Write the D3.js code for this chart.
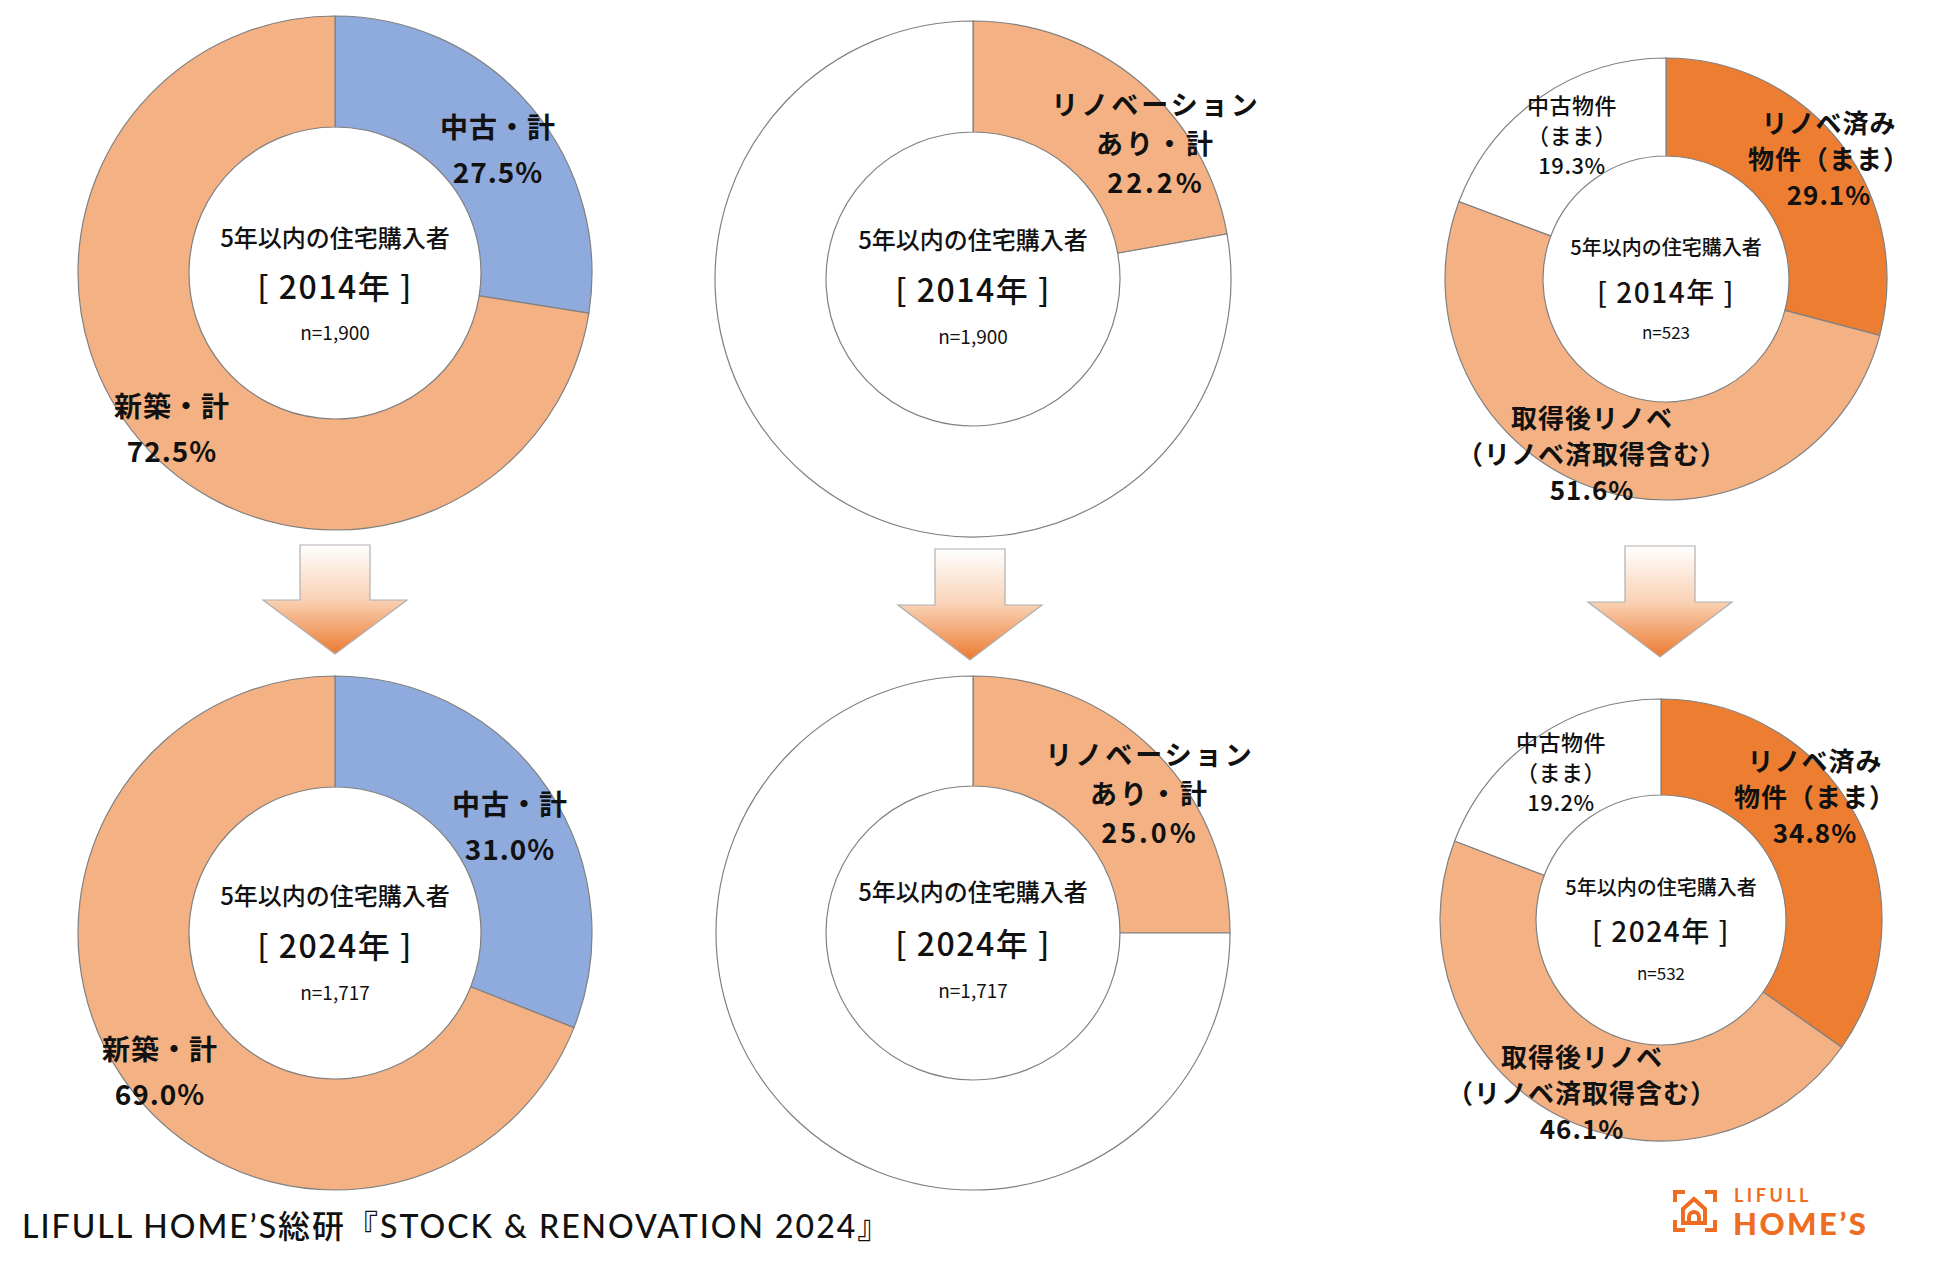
<!DOCTYPE html>
<html>
<head>
<meta charset="utf-8">
<script src="https://d3js.org/d3.v7.min.js"></script>
<style>
  body { margin: 0; background: #fff; }
  text { font-family: "Noto Sans CJK JP", sans-serif; fill: #111; }
</style>
</head>
<body>
<script>
// ---- data ----
var years = ["2014年", "2024年"];
var nAll = ["n=1,900", "n=1,717"];
var nUsed = ["n=523", "n=532"];

// chart 1: 中古 vs 新築
var builtNames = [["中古・計"], ["新築・計"]];
var built2014 = [27.5, 72.5];
var built2024 = [31.0, 69.0];

// chart 2: リノベーションあり
var renoNames = [["リノベーション", "あり・計"], null];
var reno2014 = [22.2, 77.8];
var reno2024 = [25.0, 75.0];

// chart 3: 中古物件の内訳
var usedNames = [["リノベ済み", "物件（まま）"], ["取得後リノベ", "（リノベ済取得含む）"], ["中古物件", "（まま）"]];
var used2014 = [29.1, 51.6, 19.3];
var used2024 = [34.8, 46.1, 19.2];

var centerTitle = "5年以内の住宅購入者";
var footer = "LIFULL HOME’S総研『STOCK & RENOVATION 2024』";

// ---- layout ----
var blue = "#8faadc", light = "#f4b183", dark = "#ed7d31";

var panels = [
  { cx: 335, cy: 273, R: 257, r: 146, values: built2014, names: builtNames, colors: [blue, light],
    year: years[0], n: nAll[0], fs: 28, lh: 45, ls: 1,
    offs: [[163, -125], [-163, 154]], c: [24, 32, 19], cdy: [-37, 12, 58] },
  { cx: 335, cy: 933, R: 257, r: 146, values: built2024, names: builtNames, colors: [blue, light],
    year: years[1], n: nAll[1], fs: 28, lh: 45, ls: 1,
    offs: [[175, -108], [-175, 137]], c: [24, 32, 19], cdy: [-39, 11, 58] },
  { cx: 973, cy: 279, R: 258, r: 147, values: reno2014, names: renoNames, colors: [light, "#fff"],
    year: years[0], n: nAll[0], fs: 27, lh: 39, ls: 3,
    offs: [[183, -137], null], c: [24, 32, 19], cdy: [-41, 9, 56] },
  { cx: 973, cy: 933, R: 257, r: 147, values: reno2024, names: renoNames, colors: [light, "#fff"],
    year: years[1], n: nAll[1], fs: 27, lh: 39, ls: 3,
    offs: [[177, -141], null], c: [24, 32, 19], cdy: [-43, 9, 56] },
  { cx: 1666, cy: 279, R: 221, r: 123, values: used2014, names: usedNames, colors: [dark, light, "#fff"],
    year: years[0], n: nUsed[0], fs: 26, lh: 36, ls: 1,
    offs: [[163, -122], [-74, 173], [-94, -145]], small: 2, c: [20, 28, 17], cdy: [-33, 12, 52] },
  { cx: 1661, cy: 920, R: 221, r: 125, values: used2024, names: usedNames, colors: [dark, light, "#fff"],
    year: years[1], n: nUsed[1], fs: 26, lh: 36, ls: 1,
    offs: [[154, -125], [-79, 171], [-100, -149]], small: 2, c: [20, 28, 17], cdy: [-34, 10, 52] }
];

// arrows between the years: shaft/head geometry
var arrows = [
  { cx: 335, top: 545, sh: 600, tip: 654 },
  { cx: 970, top: 549, sh: 605, tip: 660 },
  { cx: 1660, top: 546, sh: 602, tip: 657 }
];

var W = 1950, H = 1272;
var svg = d3.select("body").append("svg").attr("width", W).attr("height", H);
svg.append("rect").attr("width", W).attr("height", H).attr("fill", "#fff");

var pct = function (v) { return d3.format(".1f")(v) + "%"; };
var pie = d3.pie().sort(null).value(function (d) { return d; });

panels.forEach(function (p) {
  var g = svg.append("g").attr("transform", "translate(" + p.cx + "," + p.cy + ")");
  var arc = d3.arc().innerRadius(p.r).outerRadius(p.R);

  g.selectAll("path.slice")
    .data(pie(p.values))
    .join("path")
    .attr("class", "slice")
    .attr("d", arc)
    .attr("fill", function (d, i) { return p.colors[i]; })
    .attr("stroke", "#808080")
    .attr("stroke-width", 1.2);

  // slice labels
  p.values.forEach(function (v, i) {
    if (!p.names[i] || !p.offs[i]) return;
    var small = p.small === i;
    var fs = small ? 22 : p.fs;
    var lh = small ? 30 : p.lh;
    var lines = p.names[i].concat([pct(v)]);
    lines.forEach(function (s, k) {
      g.append("text")
        .attr("text-anchor", "middle")
        .attr("font-size", fs)
        .attr("font-weight", small ? 500 : 700)
        .attr("letter-spacing", small ? 0.5 : p.ls)
        .attr("x", p.offs[i][0])
        .attr("y", p.offs[i][1] + (k - (lines.length - 1) / 2) * lh)
        .attr("dominant-baseline", "central")
        .text(s);
    });
  });

  // centre texts
  g.append("text").attr("text-anchor", "middle").attr("dominant-baseline", "central")
    .attr("y", p.cdy[0]).attr("font-size", p.c[0]).attr("font-weight", 500).text(centerTitle);
  g.append("text").attr("text-anchor", "middle").attr("dominant-baseline", "central")
    .attr("y", p.cdy[1]).attr("font-size", p.c[1]).attr("font-weight", 500)
    .attr("letter-spacing", 1.5)
    .text("[ " + p.year + " ]");
  g.append("text").attr("text-anchor", "middle").attr("dominant-baseline", "central")
    .attr("y", p.cdy[2]).attr("font-size", p.c[2]).text(p.n);
});

// gradient arrows
var defs = svg.append("defs");
arrows.forEach(function (a, i) {
  var grad = defs.append("linearGradient").attr("id", "ag" + i)
    .attr("x1", 0).attr("y1", 0).attr("x2", 0).attr("y2", 1);
  grad.append("stop").attr("offset", "0").attr("stop-color", "#ffffff");
  grad.append("stop").attr("offset", "0.5").attr("stop-color", "#f9d2b5");
  grad.append("stop").attr("offset", "1").attr("stop-color", "#ec7a30");
  var sw = 35, hw = 72;
  var pts = [
    [a.cx - sw, a.top], [a.cx + sw, a.top], [a.cx + sw, a.sh], [a.cx + hw, a.sh],
    [a.cx, a.tip], [a.cx - hw, a.sh], [a.cx - sw, a.sh]
  ];
  svg.append("path")
    .attr("d", d3.line()(pts) + "Z")
    .attr("fill", "url(#ag" + i + ")")
    .attr("stroke", "#b0b0b0")
    .attr("stroke-width", 1.2);
});

// footer
svg.append("text")
  .attr("x", 22).attr("y", 1225)
  .attr("dominant-baseline", "central")
  .attr("font-size", 32)
  .attr("font-weight", 500)
  .style("font-family", "Lato, 'Noto Sans CJK JP', sans-serif")
  .attr("letter-spacing", 2)
  .text(footer);

// logo
var logoColor = "#ee6d22";
var lg = svg.append("g").attr("transform", "translate(1673,1190)")
  .attr("fill", "none").attr("stroke", logoColor).attr("stroke-width", 4);
lg.append("path").attr("d", "M2,12 V2 H12 M32,2 H42 V12 M42,30 V40 H32 M12,40 H2 V30");
lg.append("path").attr("d", "M10,33 V19 L21,9 L32,19 V33 Z");
lg.append("path").attr("d", "M16,33 V27 A5,5 0 0 1 26,27 V33");
svg.append("text").attr("x", 1734).attr("y", 1195).attr("dominant-baseline", "central")
  .attr("font-size", 18).attr("font-weight", 700).attr("letter-spacing", 3.5)
  .style("font-family", "Lato, sans-serif").style("fill", logoColor).text("LIFULL");
svg.append("text").attr("x", 1733).attr("y", 1223).attr("dominant-baseline", "central")
  .attr("font-size", 31).attr("font-weight", 900).attr("letter-spacing", 2.5)
  .style("font-family", "Lato, sans-serif").style("fill", logoColor).text("HOME’S");
</script>
</body>
</html>
